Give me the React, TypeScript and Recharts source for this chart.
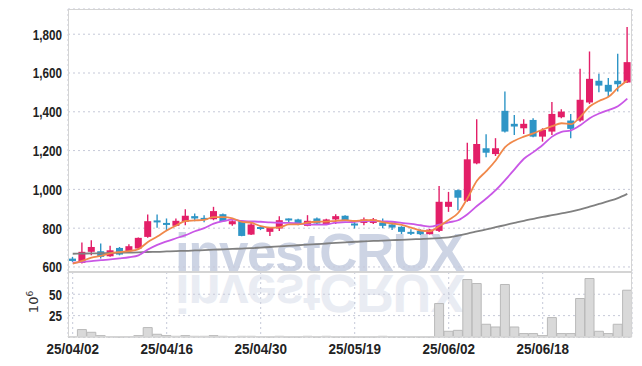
import React from 'react';
import { ComposedChart, Bar, Line, XAxis, YAxis, CartesianGrid } from 'recharts';

const dates = [
  '25/04/02', '25/04/03', '25/04/04', '25/04/07', '25/04/08', '25/04/09', '25/04/10', '25/04/11', '25/04/14', '25/04/15',
  '25/04/16', '25/04/17', '25/04/18', '25/04/21', '25/04/22', '25/04/23', '25/04/24', '25/04/25', '25/04/28', '25/04/29',
  '25/04/30', '25/05/02', '25/05/07', '25/05/08', '25/05/09', '25/05/12', '25/05/13', '25/05/14', '25/05/15', '25/05/16',
  '25/05/19', '25/05/20', '25/05/21', '25/05/22', '25/05/23', '25/05/26', '25/05/27', '25/05/28', '25/05/29', '25/05/30',
  '25/06/02', '25/06/04', '25/06/05', '25/06/09', '25/06/10', '25/06/11', '25/06/12', '25/06/13', '25/06/16', '25/06/17',
  '25/06/18', '25/06/19', '25/06/20', '25/06/23', '25/06/24', '25/06/25', '25/06/26', '25/06/27', '25/06/30', '25/07/01',
];

const openP = [643, 621, 678, 681, 655, 698, 681, 695, 755, 840, 827, 812, 833, 862, 853, 846, 872, 820, 836, 767, 806, 781, 798, 850, 845, 812, 850, 821, 845, 864, 824, 827, 827, 829, 819, 807, 781, 786, 769, 786, 910, 996, 941, 1134, 1212, 1182, 1405, 1338, 1315, 1358, 1272, 1298, 1372, 1355, 1355, 1448, 1560, 1539, 1560, 1551];
const highP = [652, 726, 738, 721, 709, 703, 717, 752, 871, 871, 850, 850, 898, 876, 867, 910, 875, 841, 838, 826, 812, 806, 862, 850, 848, 867, 855, 848, 872, 867, 838, 855, 852, 850, 829, 810, 795, 795, 796, 1017, 987, 1000, 1241, 1362, 1284, 1264, 1504, 1384, 1362, 1367, 1315, 1450, 1413, 1388, 1622, 1711, 1596, 1574, 1699, 1837];
const lowP = [626, 618, 660, 643, 652, 660, 678, 690, 750, 802, 790, 810, 815, 836, 830, 841, 834, 812, 758, 765, 790, 759, 786, 826, 815, 810, 818, 818, 821, 836, 798, 815, 822, 800, 790, 770, 765, 765, 767, 780, 884, 893, 936, 1129, 1165, 1172, 1293, 1281, 1286, 1269, 1246, 1281, 1367, 1264, 1349, 1440, 1501, 1478, 1504, 1548];
const closeP = [631, 678, 703, 652, 686, 664, 707, 750, 836, 830, 817, 838, 864, 850, 846, 888, 836, 836, 760, 819, 797, 802, 841, 841, 821, 838, 824, 845, 862, 838, 817, 845, 845, 812, 803, 781, 776, 769, 793, 936, 936, 957, 1155, 1234, 1189, 1212, 1298, 1324, 1338, 1272, 1306, 1389, 1401, 1312, 1462, 1570, 1535, 1504, 1542, 1656];

// volume in millions (10^6)
const volume = [0.6, 8.7, 5.5, 1.6, 0.5, 0.3, 0.5, 1.6, 11, 3.2, 1.6, 0.8, 1.6, 0.8, 0.8, 1.6, 0.8, 0.5, 0.8, 0.8, 0.5, 0.3, 0.8, 0.3, 0.3, 0.8, 0.3, 0.8, 0.3, 0.3, 0.3, 0.3, 0.3, 0.8, 0.3, 0.3, 0.3, 0.3, 0.3, 39.1, 6.7, 7.8, 67.2, 62.5, 14.9, 11.7, 61.4, 11.7, 4, 4, 1.6, 22.7, 4, 4, 45, 68.4, 6.7, 4, 14.9, 54.7];

const ma5 = [617, 631, 648, 657, 670, 677, 682, 692, 729, 757, 788, 814, 837, 840, 843, 857, 857, 851, 833, 828, 810, 803, 804, 820, 820, 829, 833, 834, 838, 841, 837, 841, 841, 831, 824, 817, 803, 788, 784, 811, 842, 878, 955, 1044, 1094, 1149, 1218, 1251, 1272, 1289, 1308, 1326, 1341, 1336, 1374, 1427, 1456, 1477, 1523, 1561];
const ma10 = [622, 626, 630, 635, 639, 644, 650, 660, 690, 714, 732, 748, 764, 784, 800, 823, 836, 844, 837, 835, 833, 830, 828, 827, 824, 819, 818, 819, 829, 831, 833, 837, 838, 835, 833, 827, 822, 815, 808, 818, 830, 841, 872, 914, 953, 996, 1048, 1103, 1158, 1192, 1229, 1272, 1296, 1304, 1331, 1367, 1391, 1409, 1429, 1468];
const ma60 = [668, 669, 670, 671, 672, 673, 674, 675, 677, 678, 680, 682, 683, 685, 687, 689, 691, 693, 695, 697, 700, 703, 706, 709, 712, 715, 718, 721, 724, 727, 730, 732, 734, 736, 738, 740, 742, 744, 746, 749, 753, 762, 772, 783, 794, 805, 816, 827, 838, 848, 858, 867, 876, 885, 897, 911, 925, 939, 955, 977];

const priceTicks = [600, 800, 1000, 1200, 1400, 1600, 1800];
const volumeTicks = [25, 50];
const dateTicks = ['25/04/02', '25/04/16', '25/04/30', '25/05/19', '25/06/02', '25/06/18'];

const data = dates.map((d, i) => ({
  date: d,
  open: openP[i],
  high: highP[i],
  low: lowP[i],
  close: closeP[i],
  range: [lowP[i], highP[i]],
  vol: volume[i],
  ma5: ma5[i],
  ma10: ma10[i],
  ma60: ma60[i],
}));

const UP = '#e31f68';
const DOWN = '#2e95c6';
const FONT = "'Liberation Sans', Arial, sans-serif";
const GRID = '#c6c9d8';

const Candle = (props: any) => {
  const { x, y, width, height, payload } = props;
  if (!payload) return null;
  const { open, close, high, low } = payload;
  const h = Math.abs(height);
  const top = Math.min(y, y + height);
  const ratio = high - low > 0 ? h / (high - low) : 0;
  const bodyTop = top + (high - Math.max(open, close)) * ratio;
  const bodyBot = top + (high - Math.min(open, close)) * ratio;
  const color = close >= open ? UP : DOWN;
  const cx = x + width / 2;
  const bh = Math.max(bodyBot - bodyTop, 2);
  return (
    <g>
      <line x1={cx} x2={cx} y1={top} y2={top + h} stroke={color} strokeWidth={1.4} />
      <rect x={x} y={bodyTop} width={width} height={bh} fill={color} />
    </g>
  );
};

const fmt = (v: number) => v.toLocaleString('en-US');

const YTick = (props: any) => {
  const { x, y, payload } = props;
  return (
    <g transform={`translate(${x},${y})`}>
      <text transform="scale(0.78,1)" textAnchor="end" dy="0.36em" fontFamily={FONT} fontSize={15} fontWeight={700} fill="#222">
        {fmt(payload.value)}
      </text>
    </g>
  );
};

const XTick = (props: any) => {
  const { x, y, payload } = props;
  return (
    <g transform={`translate(${x},${y})`}>
      <text transform="scale(0.9,1)" textAnchor="middle" dy="0.71em" fontFamily={FONT} fontSize={15} fontWeight={700} fill="#222">
        {payload.value}
      </text>
    </g>
  );
};

const wm: React.CSSProperties = {
  position: 'absolute', left: 175, fontFamily: "'Liberation Sans', Arial, sans-serif", fontWeight: 700,
  fontSize: 53, lineHeight: '52px', letterSpacing: -1.5, whiteSpace: 'nowrap',
};

export default function App() {
  return (
    <div style={{ position: 'absolute', left: 0, top: 0, width: 642, height: 366, background: '#fff', overflow: 'hidden' }}>
      <div style={{ ...wm, top: 227, color: '#cdd4e4' }}>investCRUX</div>
      <div style={{ ...wm, top: 267, color: '#e9ecf3', transform: 'scaleY(-1)' }}>investCRUX</div>

      <div style={{ position: 'absolute', left: 0, top: 272 }}>
        <ComposedChart width={642} height={94} data={data} margin={{ top: 0, right: 10, left: 0, bottom: 0 }} barCategoryGap={0}>
          <CartesianGrid stroke={GRID} strokeDasharray="2 3" />
          <XAxis
            dataKey="date"
            ticks={dateTicks}
            interval={0}
            height={29}
            tick={<XTick />}
            axisLine={false}
            tickLine={false}
            tickMargin={0}
          />
          <YAxis
            type="number"
            domain={[0, 76]}
            ticks={volumeTicks}
            interval={0}
            width={68}
            tick={<YTick />}
            axisLine={false}
            tickLine={false}
            tickMargin={0}
          />
          <Bar dataKey="vol" fill="#d9d9d9" stroke="#b9b9b9" strokeWidth={1} isAnimationActive={false} />
        </ComposedChart>
      </div>

      <div style={{ position: 'absolute', left: 0, top: 0 }}>
        <ComposedChart width={642} height={282} data={data} margin={{ top: 9, right: 10, left: 0, bottom: 10 }}>
          <CartesianGrid stroke={GRID} strokeDasharray="2 3" />
          <XAxis dataKey="date" ticks={dateTicks} interval={0} height={0} tick={false} axisLine={false} tickLine={false} />
          <YAxis
            type="number"
            domain={[574, 1930]}
            ticks={priceTicks}
            interval={0}
            width={68}
            tick={<YTick />}
            axisLine={false}
            tickLine={false}
            tickMargin={0}
          />
          <Line dataKey="ma60" type="monotone" stroke="#808080" strokeWidth={1.8} dot={false} isAnimationActive={false} />
          <Bar dataKey="range" shape={<Candle />} barSize={7} isAnimationActive={false} />
          <Line dataKey="ma10" type="monotone" stroke="#c957e6" strokeWidth={1.8} dot={false} isAnimationActive={false} />
          <Line dataKey="ma5" type="monotone" stroke="#f0884a" strokeWidth={1.8} dot={false} isAnimationActive={false} />
        </ComposedChart>
      </div>

      <div style={{ position: 'absolute', left: 68, top: 9, width: 564, height: 263, boxSizing: 'border-box', border: '1px solid #d4d4d4', pointerEvents: 'none' }} />
      <div style={{ position: 'absolute', left: 68, top: 272, width: 564, height: 65, boxSizing: 'border-box', border: '1px solid #d4d4d4', pointerEvents: 'none' }} />

      <div
        style={{
          position: 'absolute', left: 32, top: 302, transform: 'translate(-50%, -50%) rotate(-90deg)',
          fontFamily: "'DejaVu Sans', sans-serif", fontSize: 13, color: '#333', whiteSpace: 'nowrap', lineHeight: '14px',
        }}
      >
        10<sup style={{ fontSize: 9, verticalAlign: 'super' }}>6</sup>
      </div>
    </div>
  );
}
